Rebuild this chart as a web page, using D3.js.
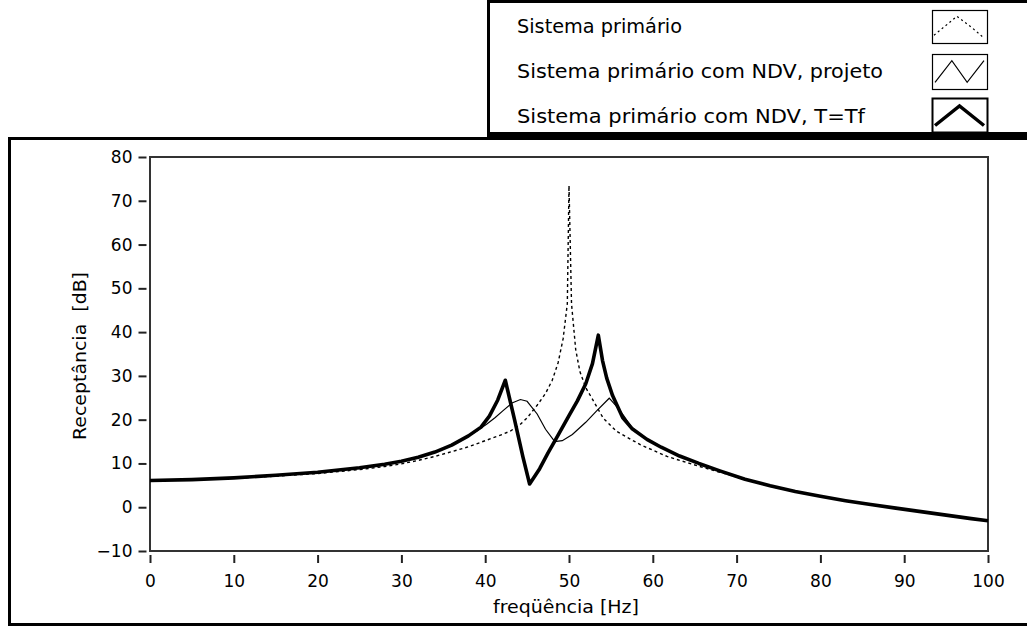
<!DOCTYPE html>
<html><head><meta charset="utf-8">
<script src="https://cdn.jsdelivr.net/npm/d3@7"></script>
<style>
body{margin:0;background:#fff}
svg{display:block}
text{font-family:"DejaVu Sans",sans-serif;fill:#000}
</style>
</head><body>
<svg id="c" width="1027" height="626"></svg>
<script>
// ---- data ----
const seriesNames = ["Sistema primário", "Sistema primário com NDV, projeto", "Sistema primário com NDV, T=Tf"];

const primaryFreq = [0,5,10,15,20,25,28,30,32,34,36,38,40,42,43,44,45,46.2,47.2,48,48.7,49.3,49.8,50,50.3,50.8,51.3,52,52.7,54.1,55.7,58.5,61.7,65.6,70,74,77,80,83,86,89,92,95,98,100];
const primaryDb   = [6.1,6.3,6.6,7.1,7.7,8.6,9.3,9.9,10.7,11.6,12.7,13.8,15.2,16.6,17.4,18.6,20.4,23.3,26.0,29.0,33.0,38.5,46.5,73.5,46.5,36.0,31.0,27.3,25.0,20.3,17.3,14.3,11.6,9.3,6.9,4.8,3.6,2.5,1.5,0.6,-0.2,-1.0,-1.8,-2.6,-3.1];

const projetoFreq = [0,5,10,15,20,25,28,30,32,34,36,38,39,40.2,41.2,42.1,43.2,44.2,45,46.2,47.2,48.3,49.2,50.4,52,53.3,54.8,55.7,56.5,57.5,59.3,61,63.2,65.5,68,71,74,77,80,83,86,89,92,95,98,100];
const projetoDb   = [6.1,6.3,6.7,7.3,8.0,9.0,9.8,10.5,11.4,12.6,14.2,16.3,17.4,19.0,20.5,22.0,23.8,24.6,24.2,21.3,17.8,15.0,15.2,16.6,19.4,22.0,24.9,23.0,21.0,18.2,15.5,13.7,11.7,10.0,8.3,6.4,4.9,3.6,2.5,1.5,0.6,-0.2,-1.0,-1.8,-2.6,-3.1];

const tfFreq = [0,5,10,15,20,25,28,30,32,34,36,38,39.5,40.5,41.5,42.4,43.5,44.5,45.3,46.5,47.5,48.5,50,51,52,52.8,53.5,54,54.5,55.2,56.4,57.5,59.3,61,63.2,65.5,68,71,74,77,80,83,86,89,92,95,98,100];
const tfDb   = [6.1,6.3,6.7,7.3,8.0,9.0,9.8,10.5,11.4,12.6,14.2,16.3,18.3,20.8,24.5,29.0,20.0,11.5,5.3,8.8,12.4,15.8,20.9,24.3,28.2,32.8,39.3,33.5,29.5,25.5,20.5,18.0,15.5,13.7,11.7,10.0,8.3,6.4,4.9,3.6,2.5,1.5,0.6,-0.2,-1.0,-1.8,-2.6,-3.1];

const xTicks = [0,10,20,30,40,50,60,70,80,90,100];
const yTicks = [-10,0,10,20,30,40,50,60,70,80];
const xTitle = "freqüência [Hz]";
const yTitle = "Receptância  [dB]";

// ---- drawing ----
const svg = d3.select("#c");
const x = d3.scaleLinear().domain([0,100]).range([150,988]);
const y = d3.scaleLinear().domain([-10,80]).range([551,157]);

// outer frame
svg.append("rect").attr("x",9.5).attr("y",138.5).attr("width",1030).attr("height",486)
  .attr("fill","none").attr("stroke","#000").attr("stroke-width",3);

// legend box
svg.append("rect").attr("x",488.5).attr("y",1.5).attr("width",560).attr("height",133)
  .attr("fill","#fff").attr("stroke","#000").attr("stroke-width",3);
svg.append("rect").attr("x",487).attr("y",132).attr("width",540).attr("height",8).attr("fill","#000");

// plot area frame
svg.append("rect").attr("x",x(0)).attr("y",y(80)).attr("width",x(100)-x(0)).attr("height",y(-10)-y(80))
  .attr("fill","#fff").attr("stroke","#333").attr("stroke-width",2);

// axes
const yAxis = d3.axisLeft(y).tickValues(yTicks).tickSize(8).tickPadding(6).tickFormat(d3.format("d"));
const gy = svg.append("g").attr("transform","translate(146.5,0)").call(yAxis);
const xAxis = d3.axisBottom(x).tickValues(xTicks).tickSize(8).tickPadding(12).tickFormat(d3.format("d"));
const gx = svg.append("g").attr("transform","translate(0,555)").call(xAxis);
[gx,gy].forEach(g=>{
  g.select(".domain").remove();
  g.selectAll(".tick line").attr("stroke","#222").attr("stroke-width",2);
  g.selectAll(".tick text").attr("font-size",17).attr("font-family","DejaVu Sans").attr("fill","#000");
});

// titles
svg.append("text").attr("x",566).attr("y",613).attr("text-anchor","middle").attr("font-size",17)
  .attr("textLength",146).attr("lengthAdjust","spacingAndGlyphs").text(xTitle);
svg.append("text").attr("transform","translate(86,356) rotate(-90)").attr("text-anchor","middle")
  .attr("font-size",17).style("white-space","pre").attr("textLength",168).attr("lengthAdjust","spacingAndGlyphs").text(yTitle);

// lines
const line = d3.line().x(d=>x(d[0])).y(d=>y(d[1]));
const zip = (a,b)=>a.map((v,i)=>[v,b[i]]);
svg.append("path").datum(zip(primaryFreq,primaryDb)).attr("d",line)
  .attr("fill","none").attr("stroke","#000").attr("stroke-width",1.4).attr("stroke-dasharray","3,3");
svg.append("path").datum(zip(projetoFreq,projetoDb)).attr("d",line)
  .attr("fill","none").attr("stroke","#000").attr("stroke-width",1.2);
svg.append("path").datum(zip(tfFreq,tfDb)).attr("d",line)
  .attr("fill","none").attr("stroke","#000").attr("stroke-width",3.6).attr("stroke-linejoin","round");

// legend
const legRows = [
  {name:seriesNames[0], base:33, len:165, box:[932,10,55,33], dash:"2,3", w:1.2, shape:[[0,0.8],[0.45,0.15],[0.75,0.55],[0.95,0.85]]},
  {name:seriesNames[1], base:78, len:366, box:[932,54,55,35], dash:null, w:1.2, shape:[[0.02,0.85],[0.35,0.15],[0.65,0.85],[0.98,0.15]]},
  {name:seriesNames[2], base:123, len:348, box:[932,98,55,34], dash:null, w:3.5, shape:[[0.02,0.85],[0.5,0.2],[0.98,0.85]]}
];
legRows.forEach(r=>{
  svg.append("text").attr("x",517).attr("y",r.base).attr("font-size",20)
    .attr("textLength",r.len).attr("lengthAdjust","spacingAndGlyphs").text(r.name);
  const [bx,by,bw,bh] = r.box;
  svg.append("rect").attr("x",bx+0.5).attr("y",by+0.5).attr("width",bw).attr("height",bh)
    .attr("fill","#fff").attr("stroke","#000").attr("stroke-width",r.w>2?2:1.2);
  const gxs = d3.scaleLinear().range([bx+2,bx+bw-2]);
  const gys = d3.scaleLinear().range([by+2,by+bh-2]);
  svg.append("path").datum(r.shape).attr("d",d3.line().x(d=>gxs(d[0])).y(d=>gys(d[1])))
    .attr("fill","none").attr("stroke","#000").attr("stroke-width",r.w)
    .attr("stroke-dasharray",r.dash);
});
</script>
</body></html>
